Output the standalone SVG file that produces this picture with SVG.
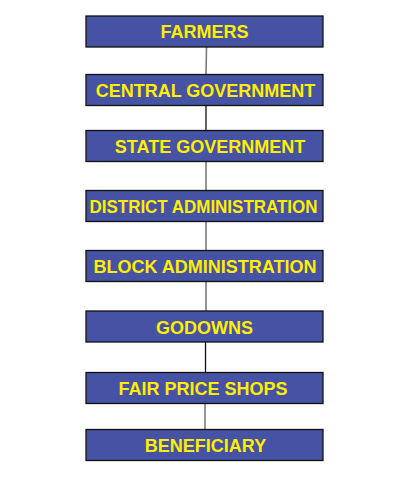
<svg xmlns="http://www.w3.org/2000/svg" width="418" height="477" viewBox="0 0 418 477">
<style>
.box{fill:#4652A4;stroke:#111;stroke-width:1.3}
.lbl{font-family:"Liberation Sans",Arial,sans-serif;font-weight:bold;font-size:18px;fill:#FFEE00;text-anchor:middle}
.c{stroke:#7a7a7a;stroke-width:1.6;fill:none}
.k{stroke:#111;stroke-width:1.3;fill:none}
</style>
<rect width="418" height="477" fill="#fff"/>
<g id="connectors">
<line class="c" x1="206.5" y1="47" x2="206" y2="74"/>
<line class="k" x1="206" y1="106" x2="206" y2="131"/>
<line class="c" x1="206" y1="162" x2="206" y2="190"/>
<line class="c" x1="206" y1="222" x2="206" y2="250"/>
<line class="c" x1="206" y1="281" x2="206" y2="311"/>
<line class="k" x1="205.5" y1="342" x2="205.5" y2="372"/>
<line class="c" x1="205" y1="403" x2="205" y2="429"/>
</g>
<g id="farmers"><rect class="box" x="86" y="16" width="237" height="31"/><text class="lbl" x="204.5" y="38">FARMERS</text></g>
<g id="central"><rect class="box" x="86" y="74.5" width="237" height="31"/><text class="lbl" x="205.5" y="97">CENTRAL GOVERNMENT</text></g>
<g id="state"><rect class="box" x="86" y="130.5" width="237" height="31"/><text class="lbl" x="210" y="153">STATE GOVERNMENT</text></g>
<g id="district"><rect class="box" x="86" y="190.5" width="237" height="31"/><text class="lbl" x="203.5" y="213" textLength="228" lengthAdjust="spacingAndGlyphs">DISTRICT ADMINISTRATION</text></g>
<g id="block"><rect class="box" x="86" y="250.5" width="237" height="31"/><text class="lbl" x="205" y="273">BLOCK ADMINISTRATION</text></g>
<g id="godowns"><rect class="box" x="86" y="311" width="237" height="31"/><text class="lbl" x="204.5" y="333.5">GODOWNS</text></g>
<g id="fairprice"><rect class="box" x="86" y="372.5" width="237" height="31"/><text class="lbl" x="203" y="395">FAIR PRICE SHOPS</text></g>
<g id="beneficiary"><rect class="box" x="86" y="429.5" width="237" height="31"/><text class="lbl" x="205.5" y="452">BENEFICIARY</text></g>
</svg>
